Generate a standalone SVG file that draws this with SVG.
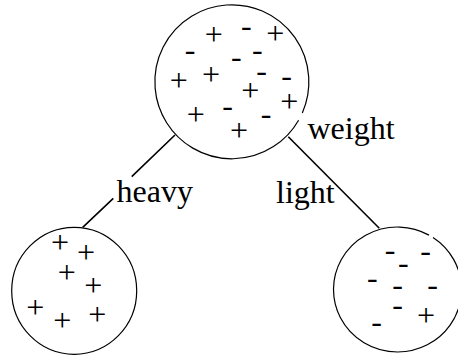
<svg xmlns="http://www.w3.org/2000/svg" width="458" height="355" viewBox="0 0 458 355">
<style>
  .node { fill: none; stroke: #000; stroke-width: 1.2; }
  .edge { fill: none; stroke: #000; stroke-width: 1.6; }
  .lbl { font-family: "Liberation Serif", "Times New Roman", serif; font-size: 32px; fill: #000; }
  .s { font-family: "Liberation Serif", "Times New Roman", serif; font-size: 32px; fill: #000; text-anchor: middle; }
</style>
<rect width="458" height="355" fill="#fff"/>
<g id="connectors">
  <path class="edge" d="M175,135 L131.7,176.7 M113.3,198.3 L82.7,227.3"/>
  <path class="edge" d="M288.3,136.7 L379.3,228.3"/>
  <text class="lbl" x="116.5" y="202">heavy</text>
  <text class="lbl" x="276" y="203">light</text>
</g>
<g id="root">
  <path class="node" d="M298.6,120.2 A77,77 0 1 1 302.3,112.9"/>
  <text class="s" x="213.7" y="44.7">+</text>
  <text class="s" x="275.3" y="44">+</text>
  <text class="s" x="178.7" y="91.3">+</text>
  <text class="s" x="211" y="85.3">+</text>
  <text class="s" x="250.3" y="100.7">+</text>
  <text class="s" x="289.3" y="112">+</text>
  <text class="s" x="195.7" y="124.7">+</text>
  <text class="s" x="239" y="140.7">+</text>
  <text class="s" x="246.3" y="36.3">-</text>
  <text class="s" x="190" y="60.3">-</text>
  <text class="s" x="236.3" y="67">-</text>
  <text class="s" x="257.3" y="59.7">-</text>
  <text class="s" x="261.7" y="81">-</text>
  <text class="s" x="286.7" y="86.3">-</text>
  <text class="s" x="227.7" y="115.7">-</text>
  <text class="s" x="266" y="124">-</text>
  <text class="lbl" x="307.5" y="139">weight</text>
</g>
<g id="heavy-node">
  <ellipse class="node" cx="74.2" cy="290.8" rx="62.5" ry="63.5"/>
  <text class="s" x="60" y="253">+</text>
  <text class="s" x="86" y="263">+</text>
  <text class="s" x="66.7" y="283">+</text>
  <text class="s" x="93.3" y="296.3">+</text>
  <text class="s" x="35.3" y="318">+</text>
  <text class="s" x="62.3" y="330.7">+</text>
  <text class="s" x="97.3" y="325.3">+</text>
</g>
<g id="light-node">
  <path class="node" d="M433,237.5 A64,62.5 0 1 1 429,235.1"/>
  <text class="s" x="390" y="259.7">-</text>
  <text class="s" x="425.7" y="261.3">-</text>
  <text class="s" x="403.3" y="272.7">-</text>
  <text class="s" x="372.3" y="288">-</text>
  <text class="s" x="397.7" y="294.7">-</text>
  <text class="s" x="432.7" y="295.3">-</text>
  <text class="s" x="397.7" y="314.7">-</text>
  <text class="s" x="376.7" y="332.3">-</text>
  <text class="s" x="426" y="326.3">+</text>
</g>
</svg>
